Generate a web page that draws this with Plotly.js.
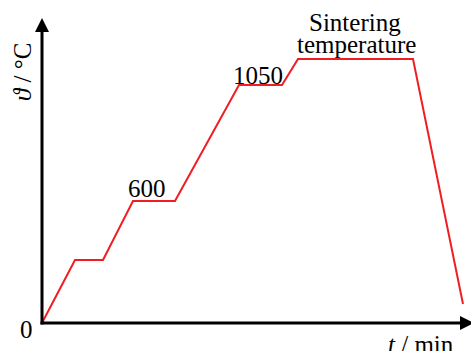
<!DOCTYPE html>
<html>
<head>
<meta charset="utf-8">
<script src="https://cdn.plot.ly/plotly-3.0.1.min.js"></script>
<style>html,body{margin:0;padding:0;background:#fff;}#chart{width:471px;height:351px;}</style>
</head>
<body>
<div id="chart"></div>
<script>
// Schematic sintering profile (arbitrary units)
const timeValues = [0, 33, 61, 91, 133, 197, 240, 256, 371, 421];
const tempValues = [0, 63, 63, 122, 122, 238, 238, 264, 264, 19];
const labelText = ['600', '1050', 'Sintering', 'temperature'];
const axisTitles = {x: '<i>t</i> / min', y: '<i>ϑ</i> / °C', origin: '0'};

const W = 471, H = 351, L = 42, B = 28, T = 0, R = 0;
const pw = W - L - R, ph = H - T - B;
const px = v => (v - L) / pw;
const py = v => (H - B - v) / ph;

const font = {family: 'Liberation Serif, Times New Roman, serif', size: 25, color: '#000'};

const trace = {
  x: timeValues, y: tempValues, mode: 'lines', type: 'scatter',
  line: {color: '#f01e23', width: 2}, hoverinfo: 'skip', cliponaxis: false
};

const ann = (x, y, text, extra) => Object.assign({
  xref: 'paper', yref: 'paper', x: px(x), y: py(y), text: text, showarrow: false,
  xanchor: 'center', yanchor: 'middle', font: font
}, extra || {});

const layout = {
  width: W, height: H,
  margin: {l: L, r: R, t: T, b: B, pad: 0},
  paper_bgcolor: '#fff', plot_bgcolor: '#fff',
  showlegend: false,
  xaxis: {range: [0, pw], visible: false, fixedrange: true},
  yaxis: {range: [0, ph], visible: false, fixedrange: true},
  shapes: [
    {type: 'line', xref: 'paper', yref: 'paper', x0: px(42), y0: py(324.5), x1: px(42), y1: py(28), line: {color: '#000', width: 3}},
    {type: 'line', xref: 'paper', yref: 'paper', x0: px(40.5), y0: py(323), x1: px(462), y1: py(323), line: {color: '#000', width: 3}},
    {type: 'path', xref: 'paper', yref: 'paper', path: `M ${px(42)} ${py(18)} L ${px(49)} ${py(32)} L ${px(35)} ${py(32)} Z`, fillcolor: '#000', line: {width: 0}},
    {type: 'path', xref: 'paper', yref: 'paper', path: `M ${px(474)} ${py(323)} L ${px(460)} ${py(316)} L ${px(460)} ${py(330)} Z`, fillcolor: '#000', line: {width: 0}}
  ],
  annotations: [
    ann(147, 188, labelText[0]),
    ann(258, 75, labelText[1]),
    ann(355, 22, labelText[2]),
    ann(356, 44, labelText[3]),
    ann(26, 329, axisTitles.origin),
    ann(421, 344, axisTitles.x),
    ann(22, 72, axisTitles.y, {textangle: -90})
  ]
};

Plotly.newPlot('chart', [trace], layout, {staticPlot: true, displayModeBar: false});
</script>
</body>
</html>
